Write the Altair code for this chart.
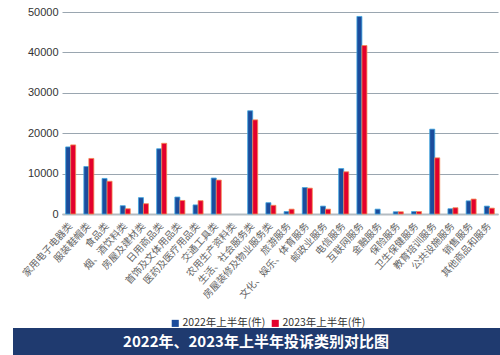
import altair as alt
import pandas as pd

categories = [
    "家用电子电器类", "服装鞋帽类", "食品类", "烟、酒饮料类", "房屋及建材类",
    "日用商品类", "首饰及文体用品类", "医药及医疗用品类", "交通工具类", "农用生产资料类",
    "生活、社会服务类", "房屋装修及物业服务类", "旅游服务", "文化、娱乐、体育服务", "邮政业服务",
    "电信服务", "互联网服务", "金融服务", "保险服务", "卫生保健服务",
    "教育培训服务", "公共设施服务", "销售服务", "其他商品和服务",
]
values_2022 = [16600, 11750, 8800, 2050, 4050, 16150, 4200, 2250, 8900, 0,
               25550, 2800, 600, 6550, 1950, 11250, 48900, 1200, 550, 600,
               21000, 1300, 3250, 1950]
values_2023 = [17100, 13750, 8100, 1300, 2550, 17500, 3350, 3300, 8400, 0,
               23300, 2150, 1200, 6400, 1200, 10450, 41700, 0, 550, 600,
               13900, 1550, 3700, 1450]
series_names = ["2022年上半年(件)", "2023年上半年(件)"]
title_text = "2022年、2023年上半年投诉类别对比图"

rows = []
for c, a, b in zip(categories, values_2022, values_2023):
    rows.append({"类别": c, "系列": series_names[0], "数量": a})
    rows.append({"类别": c, "系列": series_names[1], "数量": b})
df = pd.DataFrame(rows)

W, H = 436, 202

bars = alt.Chart(df).mark_bar(strokeWidth=0.8).encode(
    x=alt.X("类别:N", sort=categories,
            scale=alt.Scale(domain=categories, paddingInner=0.45, paddingOuter=0.2),
            axis=alt.Axis(title=None, labelAngle=-48, labelAlign="right",
                          labelBaseline="middle", labelFont="Noto Sans CJK SC",
                          labelFontSize=9.8, labelColor="#666666", ticks=False,
                          labelPadding=10, domainColor="#b4bcc2", domainWidth=2,
                          labelOverlap=False, labelLimit=200)),
    xOffset=alt.XOffset("系列:N", sort=series_names,
                        scale=alt.Scale(domain=series_names)),
    y=alt.Y("数量:Q", scale=alt.Scale(domain=[0, 50000]),
            axis=alt.Axis(title=None, values=[0, 10000, 20000, 30000, 40000, 50000],
                          format="d", ticks=False, domain=False, labelPadding=4,
                          labelFont="Liberation Sans", labelFontSize=11,
                          labelColor="#333333", gridColor="#9aa6b0",
                          gridWidth=1)),
    color=alt.Color("系列:N", sort=series_names,
                    scale=alt.Scale(domain=series_names, range=["#1c4c9c", "#e3002c"]),
                    legend=alt.Legend(title=None, orient="none", direction="horizontal",
                                      legendX=108, legendY=306, symbolType="square",
                                      symbolSize=50, symbolStrokeWidth=0,
                                      labelFont="Noto Sans CJK SC", labelFontSize=10.5,
                                      labelColor="#333333", columnPadding=4,
                                      labelOffset=2)),
    stroke=alt.Stroke("系列:N", sort=series_names,
                      scale=alt.Scale(domain=series_names, range=["#3ea6df", "#f28a50"]),
                      legend=None),
).transform_filter("datum['数量'] > 0")

banner_df = pd.DataFrame({"t": [title_text]})
banner = alt.Chart(banner_df).mark_rect(color="#1f3a6f").encode(
    x=alt.value(-49), x2=alt.value(438), y=alt.value(316), y2=alt.value(343)
)
banner_text = alt.Chart(banner_df).mark_text(
    color="white", font="Noto Sans CJK SC", fontWeight="bold", fontSize=15,
    align="center", baseline="middle"
).encode(x=alt.value(194), y=alt.value(330), text="t:N")

chart = alt.layer(bars, banner, banner_text).properties(
    width=W, height=H,
    autosize=alt.AutoSizeParams(type="none"),
    padding={"left": 62, "top": 12, "right": 2, "bottom": 141},
    background="white",
).configure_view(stroke=None)

chart.save("out.html", embed_options={"renderer": "svg", "actions": False})
